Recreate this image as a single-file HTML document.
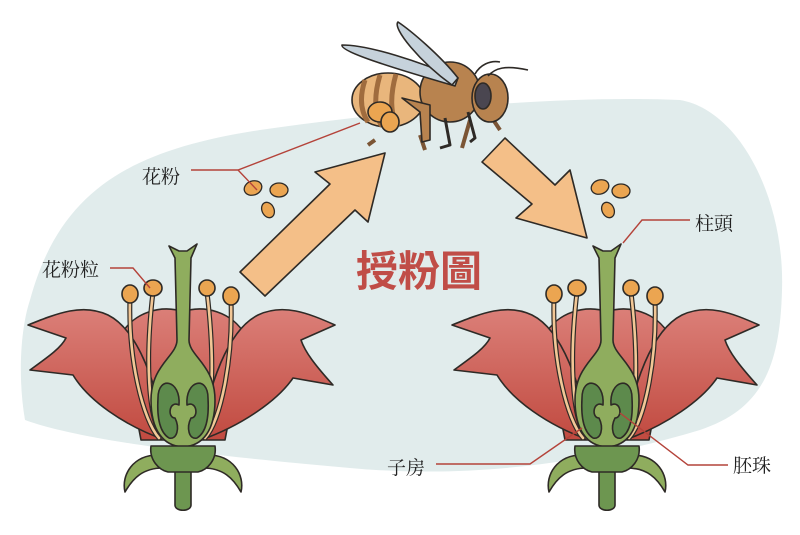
<!DOCTYPE html>
<html><head><meta charset="utf-8"><style>
html,body{margin:0;padding:0;background:#fff}
svg{display:block}
text{font-family:"Liberation Serif","Noto Serif CJK SC","Noto Sans CJK TC",serif;fill:#222}
</style></head><body>
<svg width="800" height="535" viewBox="0 0 800 535" xmlns="http://www.w3.org/2000/svg">
<defs>
<linearGradient id="pg" x1="0" y1="0" x2="0" y2="1">
<stop offset="0" stop-color="#db7f78"/><stop offset="1" stop-color="#c14a40"/></linearGradient>
<g id="flower" stroke="#2e2a26" stroke-width="1.6" stroke-linejoin="round">
<path d="M-62,335 C-50,312 -20,304 0,312 C20,304 50,312 62,335 L42,440 L-42,440 Z" fill="url(#pg)"/>
<path d="M-18,440 C-60,425 -95,400 -110,375 L-153,370 C-135,357 -122,348 -117,338 L-155,325 C-125,313 -100,303 -75,315 C-45,330 -25,385 -18,440 Z" fill="url(#pg)"/>
<path d="M18,440 C60,425 95,400 110,378 L150,385 C132,365 122,352 118,340 L152,325 C125,313 100,303 75,315 C45,330 25,385 18,440 Z" fill="url(#pg)"/>
<g fill="none" stroke-linecap="round">
<path d="M-53,298 C-55,360 -40,420 -24,438" stroke-width="5"/>
<path d="M-30,292 C-38,360 -35,420 -20,438" stroke-width="5"/>
<path d="M24,292 C32,360 30,420 18,438" stroke-width="5"/>
<path d="M48,300 C50,360 38,420 22,438" stroke-width="5"/>
<g stroke="#f2c796" stroke-width="2.6">
<path d="M-53,298 C-55,360 -40,420 -24,438"/><path d="M-30,292 C-38,360 -35,420 -20,438"/>
<path d="M24,292 C32,360 30,420 18,438"/><path d="M48,300 C50,360 38,420 22,438"/></g></g>
<g fill="#eba551">
<ellipse cx="-53" cy="294" rx="8" ry="9"/><ellipse cx="-30" cy="288" rx="9" ry="8"/>
<ellipse cx="24" cy="288" rx="8" ry="8"/><ellipse cx="48" cy="296" rx="8" ry="9"/></g>
<path d="M-14,246 L-4,251 L4,251 L14,244 L8,258 L6,340 C6,356 32,365 32,400 C32,430 20,446 0,447 C-20,446 -32,430 -32,400 C-32,365 -6,356 -6,340 L-8,258 Z" fill="#8fad5e"/>
<path d="M-25,398 C-25,375 -2,380 -4,405 C-14,400 -16,418 -8,418 C-3,428 -6,440 -14,438 C-24,432 -26,415 -25,398 Z" fill="#5d8a4c"/>
<path d="M25,398 C25,375 2,380 4,405 C14,400 16,418 8,418 C3,428 6,440 14,438 C24,432 26,415 25,398 Z" fill="#5d8a4c"/>
<path d="M-25,455 C-50,455 -62,475 -58,492 C-50,478 -40,468 -20,468 Z" fill="#8fad5e"/>
<path d="M25,455 C50,455 62,475 58,492 C50,478 40,468 20,468 Z" fill="#8fad5e"/>
<path d="M-8,468 L8,468 L8,505 C8,512 -8,512 -8,505 Z" fill="#6d9650"/>
<path d="M-32,446 L32,446 C34,460 24,470 15,472 L-15,472 C-24,470 -34,460 -32,446 Z" fill="#6d9650"/>
</g>
</defs>
<path d="M30,300 C60,190 130,150 260,130 C400,110 560,95 680,100 C740,110 785,200 782,290 C780,370 760,410 700,430 C600,460 480,480 350,468 C200,455 80,440 25,420 C18,380 20,330 30,300 Z" fill="#e1ecec"/>
<use href="#flower" x="183" y="0"/>
<use href="#flower" x="607" y="0"/>
<g stroke="#2e2a26" stroke-width="1.6" fill="#f4bf88" stroke-linejoin="round">
<path d="M240,272 L330,184 L315,172 L385,153 L368,222 L355,210 L265,296 Z"/>
<path d="M505,138 L555,185 L570,170 L587,238 L516,218 L532,204 L482,162 Z"/>
</g>
<g fill="#eba551" stroke="#2e2a26" stroke-width="1.3">
<ellipse cx="253" cy="188" rx="9" ry="7" transform="rotate(-20 253 188)"/>
<ellipse cx="279" cy="190" rx="9" ry="7"/>
<ellipse cx="268" cy="210" rx="6" ry="8" transform="rotate(-25 268 210)"/>
<ellipse cx="600" cy="187" rx="9" ry="7" transform="rotate(-20 600 187)"/>
<ellipse cx="621" cy="191" rx="9" ry="7"/>
<ellipse cx="608" cy="210" rx="6" ry="8" transform="rotate(-25 608 210)"/>
</g>
<g stroke="#2e2a26" stroke-width="1.6" stroke-linejoin="round">
<path d="M375,140 L368,145 M420,135 L425,150 M470,120 L462,148 M490,115 L500,130" stroke="#7b5535" stroke-width="4" fill="none"/>
<ellipse cx="388" cy="100" rx="36" ry="27" fill="#e9b67c"/>
<path d="M365,80 C360,95 360,110 368,122 M380,75 C374,95 374,115 382,126 M396,74 C390,95 390,115 398,127" stroke="#a06c3e" stroke-width="5" fill="none"/>
<circle cx="450" cy="92" r="30" fill="#b8834f"/>
<ellipse cx="490" cy="98" rx="18" ry="24" fill="#b8834f"/>
<ellipse cx="483" cy="96" rx="8" ry="13" fill="#4a4650"/>
<path d="M488,76 C495,68 505,65 528,70 M475,74 C480,65 490,60 500,62" fill="none"/>
<ellipse cx="380" cy="112" rx="12" ry="10" fill="#eba551"/>
<ellipse cx="390" cy="122" rx="9" ry="10" fill="#eba551"/>
<path d="M402,98 L430,105 L430,140 L422,142 L420,112 Z" fill="#b8834f"/>
<path d="M445,118 L450,145 L440,148" fill="none" stroke-width="3"/>
<path d="M468,112 L475,138 L470,142" fill="none" stroke-width="3"/>
<path d="M458,78 C420,62 370,45 342,45 C340,52 400,70 455,86 Z" fill="#c6d2db"/>
<path d="M458,78 C440,55 410,30 398,22 C392,28 420,62 452,85 Z" fill="#c6d2db"/>
</g>
<text x="356" y="286" font-weight="bold" font-size="42" style="fill:#c04d47;font-family:'Liberation Sans','Noto Sans CJK TC',sans-serif">授粉圖</text>
<g stroke="#b4433a" stroke-width="1.4" fill="none">
<path d="M191,170 L238,170 L360,123 M238,170 L257,190"/>
<path d="M110,268 L133,268 L150,288"/>
<path d="M690,220 L642,220 L623,243"/>
<path d="M436,464 L530,464 L582,428"/>
<path d="M728,465 L688,465 L620,413"/>
</g>
<g font-size="19">
<text x="142" y="183">花粉</text>
<text x="42" y="276">花粉粒</text>
<text x="695" y="230">柱頭</text>
<text x="387" y="474">子房</text>
<text x="733" y="472">胚珠</text>
</g>
</svg>
</body></html>
